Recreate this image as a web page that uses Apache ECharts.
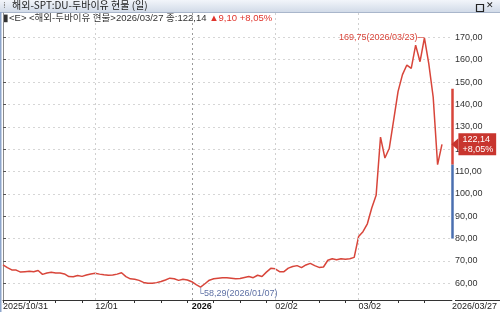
<!DOCTYPE html>
<html><head><meta charset="utf-8">
<script src="https://cdn.jsdelivr.net/npm/echarts@6/dist/echarts.min.js"></script>
<style>html,body{margin:0;padding:0;background:#fff}#c{width:500px;height:312px}</style>
</head><body><div id="c"></div>
<script>
const dates = [
'2025/10/31',
'2025/11/03','2025/11/04','2025/11/05','2025/11/06','2025/11/07','2025/11/10','2025/11/11','2025/11/12','2025/11/13','2025/11/14',
'2025/11/17','2025/11/18','2025/11/19','2025/11/20','2025/11/21','2025/11/24','2025/11/25','2025/11/26','2025/11/27','2025/11/28',
'2025/12/01','2025/12/02','2025/12/03','2025/12/04','2025/12/05','2025/12/08','2025/12/09','2025/12/10','2025/12/11','2025/12/12',
'2025/12/15','2025/12/16','2025/12/17','2025/12/18','2025/12/19','2025/12/22','2025/12/23','2025/12/24','2025/12/26','2025/12/29',
'2025/12/30','2025/12/31',
'2026/01/05','2026/01/06','2026/01/07','2026/01/08','2026/01/09','2026/01/12','2026/01/13','2026/01/14','2026/01/15','2026/01/16',
'2026/01/20','2026/01/21','2026/01/22','2026/01/23','2026/01/26','2026/01/27','2026/01/28','2026/01/29','2026/01/30',
'2026/02/02','2026/02/03','2026/02/04','2026/02/05','2026/02/06','2026/02/09','2026/02/10','2026/02/11','2026/02/12','2026/02/13',
'2026/02/17','2026/02/18','2026/02/19','2026/02/20','2026/02/23','2026/02/24','2026/02/25','2026/02/26','2026/02/27',
'2026/03/02','2026/03/03','2026/03/04','2026/03/05','2026/03/06','2026/03/09','2026/03/10','2026/03/11','2026/03/12','2026/03/13',
'2026/03/16','2026/03/17','2026/03/18','2026/03/19','2026/03/20','2026/03/23','2026/03/24','2026/03/25','2026/03/26','2026/03/27'
];
const prices = [
68.2,
67.0,66.0,65.9,65.0,65.2,65.4,65.2,65.7,64.0,64.6,
64.9,64.6,64.6,64.2,63.0,62.9,63.5,63.1,63.7,64.2,
64.5,64.1,63.8,63.6,63.7,64.1,64.7,63.0,62.0,61.8,
61.3,60.4,60.0,60.0,60.3,60.8,61.5,62.3,62.0,61.3,
61.8,61.5,
60.7,59.4,58.29,59.8,61.4,62.0,62.3,62.5,62.5,62.3,
62.0,62.1,62.6,63.0,62.5,63.6,63.0,65.0,66.7,
66.5,65.2,65.2,66.8,67.5,67.9,67.0,68.2,68.9,67.9,
67.1,67.3,70.3,71.0,70.5,71.0,70.8,71.0,71.6,
80.9,83.1,86.6,93.7,99.4,125.4,116.0,120.4,133.1,145.8,
153.3,157.6,156.1,166.5,159.1,169.75,158.1,143.2,113.04,122.14
];
const yTicks = [60,70,80,90,100,110,120,130,140,150,160,170];
const xLabelIdx = [0,21,43,62,81,100];
const xLabelText = ['2025/10/31','12/01','2026','02/02','03/02','2026/03/27'];
const xTickIdx = [0,6,12,18,24,30,36,42,48,54,60,66,72,78,84,90,96];
const gridIdx = [21,43,62,81];
const titleText = '해외-SPT:DU-두바이유 현물 (일)';
const infoText = '▮<E> <해외-두바이유 현물>2026/03/27 종:122,14 ';
const changeText = '▲9,10 +8,05%';
const changePct = '+8,05%';
const prevClose = 113.04;
const bandTop = 147;
const bandBottom = 80;

const fmt = v => v.toFixed(2).replace('.', ',');
const last = prices.length - 1;
const maxV = Math.max(...prices), minV = Math.min(...prices);
const maxI = prices.indexOf(maxV), minI = prices.indexOf(minV);
const xMax = 102.26;
const RED = '#d8453a';
const FONT = 'Liberation Sans, Noto Sans CJK KR, sans-serif';

const chart = echarts.init(document.getElementById('c'), null, {renderer: 'canvas'});
chart.setOption({
  animation: false,
  backgroundColor: '#fff',
  grid: {left: 2, right: 45, top: 13, bottom: 12},
  xAxis: {
    type: 'value', min: 0, max: xMax,
    axisLine: {show: true, lineStyle: {color: '#333', width: 1}},
    axisTick: {show: true, customValues: xTickIdx, length: 3, lineStyle: {color: '#333'}},
    splitLine: {show: false},
    axisLabel: {
      customValues: xLabelIdx, align: 'left', margin: 2, fontSize: 9, color: '#222', fontFamily: FONT,
      formatter: v => {
        const k = xLabelIdx.indexOf(Math.round(v));
        const t = xLabelText[k] || '';
        if (t === '2026') return '{b|' + t + '}';
        if (k === xLabelIdx.length - 1) return '{e|' + t + '}';
        return t;
      },
      rich: {
        b: {fontWeight: 'bold', fontSize: 9, color: '#111', fontFamily: FONT},
        e: {fontSize: 9, color: '#222', fontFamily: FONT, padding: [0, 0, 0, 10]}
      }
    }
  },
  yAxis: {
    type: 'value', position: 'right', min: 52.53, max: 180.87,
    axisLine: {show: true, lineStyle: {color: '#8a8a8a'}},
    axisTick: {show: true, customValues: yTicks, length: 3, lineStyle: {color: '#555'}},
    axisLabel: {customValues: yTicks, formatter: v => fmt(v), fontSize: 9, color: '#333', margin: 3, fontFamily: FONT},
    splitLine: {show: true, lineStyle: {color: '#d6d6d6', type: [2, 3], width: 1}}
  },
  series: [{
    type: 'line', clip: false, symbol: 'none',
    data: prices.map((v, i) => [i, v]),
    lineStyle: {color: RED, width: 1.5},
    markLine: {
      silent: true, symbol: ['none', 'none'],
      data: [
        ...gridIdx.map(g => ({xAxis: g, lineStyle: {color: g === 43 ? '#9a9a9a' : '#d0d0d0', type: [2, 3], width: 1}, label: {show: false}})),
        [{coord: [xMax, bandTop], lineStyle: {color: RED, width: 2.5, type: 'solid'}, label: {show: false}}, {coord: [xMax, prevClose]}],
        [{coord: [xMax, prevClose], lineStyle: {color: '#4a6fb0', width: 2.5, type: 'solid'}, label: {show: false}}, {coord: [xMax, bandBottom]}]
      ]
    },
    markPoint: {
      silent: true,
      data: [
        {coord: [maxI, maxV], symbol: 'circle', symbolSize: 1, itemStyle: {color: 'rgba(0,0,0,0)'},
          label: {show: true, position: 'left', distance: 0, formatter: fmt(maxV) + '(' + dates[maxI] + ')─', color: RED, fontSize: 9, fontFamily: FONT}},
        {coord: [minI, minV], symbol: 'circle', symbolSize: 1, itemStyle: {color: 'rgba(0,0,0,0)'},
          label: {show: true, position: 'bottom', align: 'left', distance: 1, offset: [-3, 0], formatter: '└' + fmt(minV) + '(' + dates[minI] + ')', color: '#5f72a6', fontSize: 9, fontFamily: FONT}},
        {coord: [xMax, prices[last]], symbol: 'triangle', symbolRotate: 90, symbolSize: [12, 7], symbolOffset: [3, 0], itemStyle: {color: '#c8352e'},
          label: {show: true, position: 'right', distance: 0, formatter: fmt(prices[last]) + '\n' + changePct,
            color: '#fff', backgroundColor: '#c8352e', padding: [1, 3, 1, 4], fontSize: 9, lineHeight: 10, fontFamily: FONT, align: 'left'}}
      ]
    }
  }],
  graphic: [
    {type: 'rect', left: 0, top: 0, shape: {width: 500, height: 12},
      style: {fill: new echarts.graphic.LinearGradient(0, 0, 0, 1, [{offset: 0, color: '#f2f5fa'}, {offset: 1, color: '#d2dbe8'}])}},
    {type: 'line', shape: {x1: 0, y1: 12.5, x2: 500, y2: 12.5}, style: {stroke: '#a9b6cb', lineWidth: 1}},
    {type: 'rect', left: 0, top: 12, shape: {width: 1.5, height: 300}, style: {fill: '#8ea6cc'}},
    {type: 'text', left: 3, top: 1, style: {text: '⁞', fill: '#888', font: '9px DejaVu Sans'}},
    {type: 'text', left: 12, top: 0.5, style: {text: titleText, fill: '#1c1c1c', font: '10px "Noto Sans CJK KR"'}},
    {type: 'rect', left: 474, top: 2, shape: {width: 7, height: 7}, style: {fill: 'none', stroke: '#222', lineWidth: 1.2}},
    {type: 'text', left: 486, top: 1, style: {text: '✕', fill: '#222', font: 'bold 9px DejaVu Sans'}},
    {type: 'text', left: 3, top: 14, style: {
      text: '{a|' + infoText + '}{b|' + changeText + '}',
      rich: {a: {fill: '#333', fontSize: 9.5, fontFamily: FONT}, b: {fill: '#e0342c', fontSize: 9.5, fontFamily: FONT}}
    }},
    {type: 'line', shape: {x1: 455, y1: 300.5, x2: 500, y2: 300.5}, style: {stroke: '#333', lineWidth: 1}}
  ]
});
</script></body></html>
